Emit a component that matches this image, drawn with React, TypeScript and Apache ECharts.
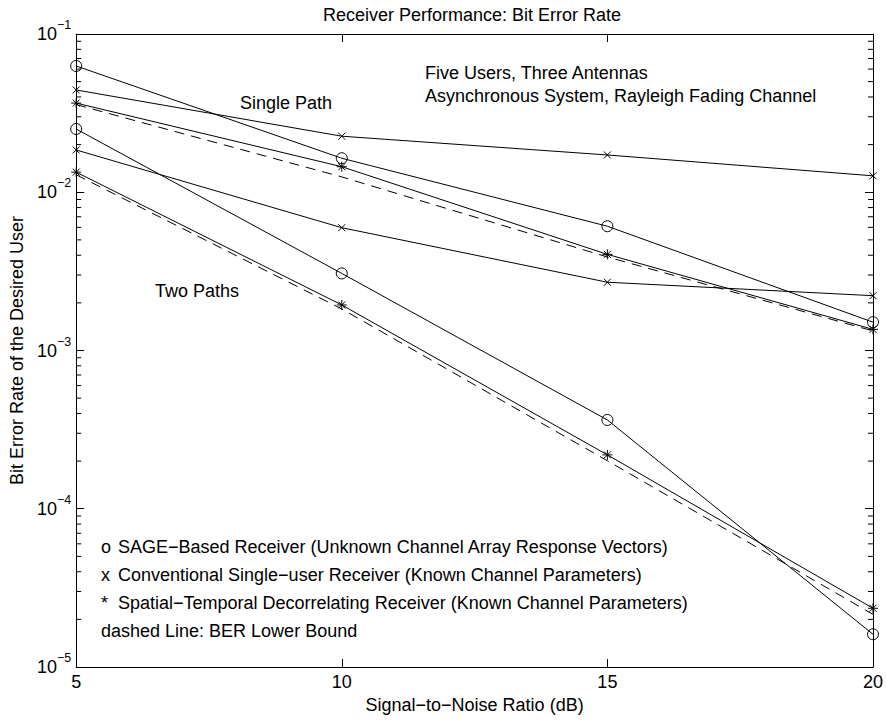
import React, { useEffect, useRef } from "react";
import * as echarts from "echarts";

const snr = [5, 10, 15, 20];

// Single path
const sageSingle = [0.0628, 0.0164, 0.0061, 0.00151];
const convSingle = [0.0443, 0.0226, 0.0172, 0.0127];
const decorSingle = [0.0366, 0.0145, 0.00405, 0.00136];
const boundSingle = [0.0358, 0.0125, 0.0039, 0.00133];

// Two paths
const sageTwo = [0.0251, 0.00307, 0.000364, 0.0000161];
const convTwo = [0.0185, 0.00597, 0.0027, 0.00222];
const decorTwo = [0.0134, 0.00194, 0.000219, 0.0000235];
const boundTwo = [0.0129, 0.00183, 0.000201, 0.0000215];

const yDecades = [1e-5, 1e-4, 1e-3, 1e-2, 1e-1];
const minorMultipliers = [2, 3, 4, 5, 6, 7, 8, 9];

const titleText = "Receiver Performance: Bit Error Rate";
const xName = "Signal\u2212to\u2212Noise Ratio (dB)";
const yName = "Bit Error Rate of the Desired User";
const noteLines = ["Five Users, Three Antennas", "Asynchronous System, Rayleigh Fading Channel"];
const legendMarks = ["o", "x", "*", ""];
const legendTexts = [
  "SAGE\u2212Based Receiver (Unknown Channel Array Response Vectors)",
  "Conventional Single\u2212user Receiver (Known Channel Parameters)",
  "Spatial\u2212Temporal Decorrelating Receiver (Known Channel Parameters)",
  "dashed Line: BER Lower Bound",
];

const FONT = "'Liberation Sans', Arial, Helvetica, sans-serif";
const FS = 18;
const X_SYM = "path://M0,0L10,10M10,0L0,10";
const STAR_SYM = "path://M5,0L5,10M0,5L10,5M1.5,1.5L8.5,8.5M8.5,1.5L1.5,8.5";

function pairs(vals: number[]) {
  return snr.map((x, i) => [x, vals[i]]);
}

function lineSeries(name: string, vals: number[], symbol: string, size: number, dashed = false) {
  return {
    name,
    type: "line",
    data: pairs(vals),
    symbol: dashed ? "none" : symbol,
    symbolSize: size,
    showSymbol: !dashed,
    lineStyle: { color: "#000", width: 1, type: dashed ? [10, 7] : "solid" },
    itemStyle: {
      color: "rgba(0,0,0,0)",
      borderColor: "#000",
      borderWidth: 1,
    },
    emphasis: { disabled: true },
    z: 3,
    silent: true,
  };
}

function txt(text: string, x: number, y: number, align = "left") {
  return {
    type: "text",
    x,
    y,
    style: { text, font: FS + "px " + FONT, fill: "#000", textAlign: align, textVerticalAlign: "middle" },
  };
}

export default function App() {
  const ref = useRef<HTMLDivElement>(null);
  useEffect(() => {
    if (!ref.current) return;
    const chart = echarts.init(ref.current, undefined, { renderer: "svg" });
    const minorTicks: number[][] = [];
    yDecades.slice(0, -1).forEach((d) => {
      minorMultipliers.forEach((m) => minorTicks.push([5, d * m]));
    });
    const axisCommon = {
      axisLine: { show: true, lineStyle: { color: "#000", width: 1 } },
      axisTick: { show: true, inside: true, length: 8, lineStyle: { color: "#000" } },
      splitLine: { show: false },
      minorTick: { show: false },
    };
    chart.setOption({
      animation: false,
      backgroundColor: "#fff",
      textStyle: { fontFamily: FONT, color: "#000" },
      grid: { left: 72, right: 13, top: 34, bottom: 54, containLabel: false },
      xAxis: [
        {
          type: "value",
          min: 5,
          max: 20,
          interval: 5,
          position: "bottom",
          ...axisCommon,
          axisLabel: { color: "#000", fontSize: FS, margin: 6, fontFamily: FONT },
          name: xName,
          nameLocation: "middle",
          nameGap: 29,
          nameTextStyle: { fontSize: FS, color: "#000", fontFamily: FONT },
        },
        {
          type: "value",
          min: 5,
          max: 20,
          interval: 5,
          position: "top",
          ...axisCommon,
          axisLabel: { show: false },
        },
      ],
      yAxis: [
        {
          type: "log",
          logBase: 10,
          min: 1e-5,
          max: 1e-1,
          position: "left",
          ...axisCommon,
          axisLabel: {
            color: "#000",
            margin: 5,
            fontFamily: FONT,
            formatter: (v: number) => {
              const e = Math.round(Math.log10(v));
              return "{b|10}{s|\u2212" + String(-e) + "}";
            },
            rich: {
              b: { fontSize: FS, fontFamily: FONT, color: "#000", lineHeight: 18, verticalAlign: "middle" },
              s: { fontSize: 12.5, fontFamily: FONT, color: "#000", lineHeight: 14, verticalAlign: "middle", padding: [0, 0, 18, 0] },
            },
          },
          name: yName,
          nameLocation: "middle",
          nameGap: 44,
          nameTextStyle: { fontSize: FS, color: "#000", fontFamily: FONT },
        },
        {
          type: "log",
          logBase: 10,
          min: 1e-5,
          max: 1e-1,
          position: "right",
          ...axisCommon,
          axisLabel: { show: false },
        },
      ],
      graphic: [
        txt(titleText, 472, 15, "center"),
        ...noteLines.map((t, i) => txt(t, 425, 73 + i * 23)),
        txt("Single Path", 240, 103),
        txt("Two Paths", 155, 291),
        ...legendMarks.map((m, i) => txt(m, 101, 547 + i * 28)),
        ...legendTexts.map((t, i) => txt(t, i === 3 ? 101 : 118, 547 + i * 28)),
      ],
      series: [
        {
          type: "custom",
          silent: true,
          data: minorTicks,
          encode: { x: 0, y: 1 },
          clip: false,
          renderItem: (params: any, api: any) => {
            const y = api.coord([5, api.value(1)])[1];
            const cs = params.coordSys;
            return {
              type: "group",
              children: [
                { type: "line", shape: { x1: cs.x, y1: y, x2: cs.x + 5, y2: y }, style: { stroke: "#000", lineWidth: 1 } },
                { type: "line", shape: { x1: cs.x + cs.width - 5, y1: y, x2: cs.x + cs.width, y2: y }, style: { stroke: "#000", lineWidth: 1 } },
              ],
            };
          },
        },
        lineSeries("SAGE single", sageSingle, "circle", 11),
        lineSeries("Conv single", convSingle, X_SYM, 7),
        lineSeries("Decor single", decorSingle, STAR_SYM, 10),
        lineSeries("Bound single", boundSingle, "none", 0, true),
        lineSeries("SAGE two", sageTwo, "circle", 11),
        lineSeries("Conv two", convTwo, X_SYM, 7),
        lineSeries("Decor two", decorTwo, STAR_SYM, 10),
        lineSeries("Bound two", boundTwo, "none", 0, true),
      ],
    });
    return () => chart.dispose();
  }, []);
  return <div ref={ref} style={{ position: "absolute", left: 0, top: 0, width: 886, height: 721 }} />;
}
